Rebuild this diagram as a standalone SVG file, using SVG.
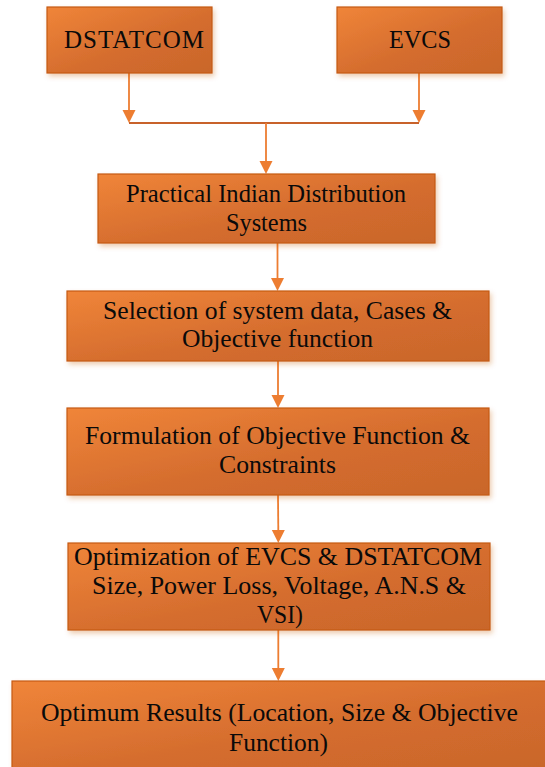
<svg xmlns="http://www.w3.org/2000/svg" width="545" height="767" viewBox="0 0 545 767">
<defs>
<linearGradient id="g" x1="0" y1="0" x2="1" y2="1">
<stop offset="0" stop-color="#F08539"/>
<stop offset="0.55" stop-color="#D56D2E"/>
<stop offset="1" stop-color="#C9662B"/>
</linearGradient>
<filter id="sh" x="-10%" y="-10%" width="125%" height="130%">
<feDropShadow dx="2" dy="3" stdDeviation="2.5" flood-color="#C55A11" flood-opacity="0.3"/>
</filter>
</defs>
<style>
.box{fill:url(#g);stroke:#C55A11;stroke-width:1.2;filter:url(#sh)}
.t{font-family:"Liberation Serif","Times New Roman",serif;font-size:25px;fill:#0a0a0a}
.c{fill:none;stroke:#ED7D31;stroke-width:1.8}
.h{fill:none;stroke:#C8622A;stroke-width:1.8}
.a{fill:#ED7D31}
</style>
<g id="connectors">
<line class="c" x1="129" y1="73" x2="129" y2="110"/>
<path class="a" d="M122.5,110 L135.5,110 L129,123 Z"/>
<line class="c" x1="419" y1="73" x2="419" y2="110"/>
<path class="a" d="M412.5,110 L425.5,110 L419,123 Z"/>
<line class="h" x1="129" y1="123" x2="419" y2="123"/>
<line class="c" x1="266" y1="123" x2="266" y2="161"/>
<path class="a" d="M259.5,161 L272.5,161 L266,174 Z"/>
<line class="c" x1="277.5" y1="243" x2="277.5" y2="278"/>
<path class="a" d="M271,278 L284,278 L277.5,291 Z"/>
<line class="c" x1="278" y1="361" x2="278" y2="395"/>
<path class="a" d="M271.5,395 L284.5,395 L278,408 Z"/>
<line class="c" x1="278" y1="495" x2="278.3" y2="530"/>
<path class="a" d="M271.8,530 L284.8,530 L278.3,543 Z"/>
<line class="c" x1="278.3" y1="630" x2="278.3" y2="668"/>
<path class="a" d="M271.8,668 L284.8,668 L278.3,681 Z"/>
</g>
<g id="n-dstatcom">
<rect class="box" x="47" y="7" width="165" height="66"/>
<text class="t" x="64" y="48" textLength="140" lengthAdjust="spacing">DSTATCOM</text>
</g>
<g id="n-evcs">
<rect class="box" x="337" y="7" width="165" height="66"/>
<text class="t" x="389" y="48" textLength="62" lengthAdjust="spacingAndGlyphs">EVCS</text>
</g>
<g id="n-practical">
<rect class="box" x="98" y="174" width="337" height="69"/>
<text class="t" x="126" y="202" textLength="280" lengthAdjust="spacingAndGlyphs">Practical Indian Distribution</text>
<text class="t" x="226" y="231" textLength="81" lengthAdjust="spacingAndGlyphs">Systems</text>
</g>
<g id="n-selection">
<rect class="box" x="67" y="291" width="422" height="70"/>
<text class="t" x="103" y="319" textLength="349" lengthAdjust="spacingAndGlyphs">Selection of system data, Cases &amp;</text>
<text class="t" x="182" y="347" textLength="191" lengthAdjust="spacingAndGlyphs">Objective function</text>
</g>
<g id="n-formulation">
<rect class="box" x="67" y="408" width="422" height="87"/>
<text class="t" x="85" y="444" textLength="385" lengthAdjust="spacingAndGlyphs">Formulation of Objective Function &amp;</text>
<text class="t" x="219" y="473" textLength="117" lengthAdjust="spacingAndGlyphs">Constraints</text>
</g>
<g id="n-optimization">
<rect class="box" x="68" y="543" width="422" height="87"/>
<text class="t" x="74" y="565" textLength="408" lengthAdjust="spacingAndGlyphs">Optimization of EVCS &amp; DSTATCOM</text>
<text class="t" x="92" y="594" textLength="374" lengthAdjust="spacingAndGlyphs">Size, Power Loss, Voltage, A.N.S &amp;</text>
<text class="t" x="257" y="623" textLength="46" lengthAdjust="spacingAndGlyphs">VSI)</text>
</g>
<g id="n-optimum">
<rect class="box" x="12" y="681" width="536" height="90"/>
<text class="t" x="41" y="721" textLength="477" lengthAdjust="spacingAndGlyphs">Optimum Results (Location, Size &amp; Objective</text>
<text class="t" x="229" y="751" textLength="99" lengthAdjust="spacingAndGlyphs">Function)</text>
</g>
</svg>
